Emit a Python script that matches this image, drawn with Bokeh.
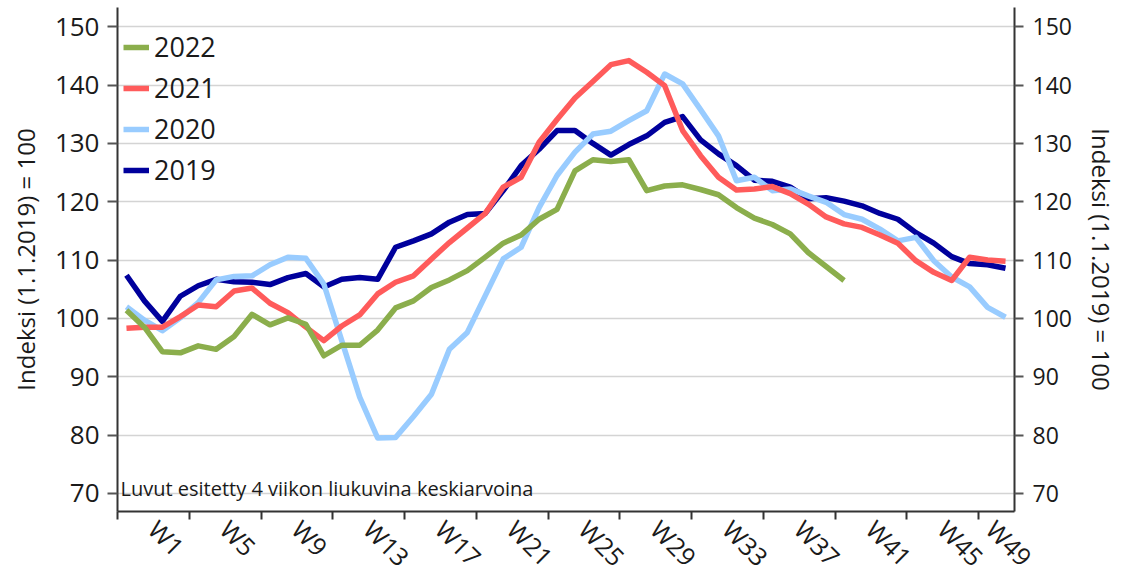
import math
from bokeh.plotting import figure
from bokeh.models import Range1d, LinearAxis, FixedTicker, Legend, LegendItem, Label
from bokeh.embed import file_html
from bokeh.resources import INLINE

# ---- data (4-week moving average index, 1.1.2019 = 100) ----
week_index = list(range(50))

s2019 = [107.4, 103.0, 99.5, 103.8, 105.6, 106.7, 106.3, 106.2, 105.8, 107.0,
         107.7, 105.4, 106.7, 107.0, 106.7, 112.2, 113.3, 114.5, 116.5, 117.8,
         118.0, 121.9, 126.2, 129.0, 132.2, 132.2, 130.0, 128.0, 129.8, 131.3,
         133.6, 134.6, 130.6, 128.2, 126.2, 123.7, 123.5, 122.5, 120.5, 120.7,
         120.1, 119.3, 118.0, 117.0, 114.7, 112.9, 110.6, 109.4, 109.2, 108.6]

s2020 = [102.0, 99.7, 97.9, 100.1, 102.7, 106.6, 107.2, 107.3, 109.2, 110.5,
         110.3, 105.9, 96.2, 86.5, 79.5, 79.6, 83.2, 87.0, 94.7, 97.6,
         103.9, 110.2, 112.2, 119.0, 124.5, 128.5, 131.6, 132.1, 133.9, 135.6,
         141.9, 140.2, 135.8, 131.3, 123.6, 124.2, 121.9, 122.2, 121.0, 119.9,
         117.8, 117.0, 115.3, 113.3, 113.9, 109.9, 107.1, 105.4, 101.9, 100.2]

s2021 = [98.3, 98.5, 98.5, 100.3, 102.3, 102.0, 104.7, 105.2, 102.6, 101.0,
         98.5, 96.2, 98.7, 100.6, 104.2, 106.2, 107.3, 110.2, 113.0, 115.5,
         118.0, 122.5, 124.2, 130.2, 134.1, 137.8, 140.6, 143.5, 144.2, 142.2,
         139.9, 132.2, 127.9, 124.2, 122.0, 122.2, 122.6, 121.4, 119.6, 117.4,
         116.2, 115.6, 114.3, 112.9, 109.9, 107.9, 106.5, 110.5, 110.0, 109.8]

s2022 = [101.4, 98.5, 94.3, 94.1, 95.3, 94.7, 96.9, 100.7, 98.9, 100.1,
         99.0, 93.6, 95.4, 95.4, 98.0, 101.8, 103.0, 105.3, 106.6, 108.2,
         110.5, 112.9, 114.3, 117.0, 118.7, 125.3, 127.2, 126.9, 127.2, 121.9,
         122.7, 122.9, 122.1, 121.2, 119.0, 117.2, 116.1, 114.5, 111.3, 108.9,
         106.5]

week_labels = ["W1", "W5", "W9", "W13", "W17", "W21", "W25", "W29", "W33",
               "W37", "W41", "W45", "W49"]
week_label_pos = [1.5, 5.5, 9.5, 13.5, 17.5, 21.5, 25.5, 29.5, 33.5,
                  37.5, 41.5, 45.5, 48.2]
week_tick_marks = [-0.5 + 4 * k for k in range(13)]
y_ticks = [70, 80, 90, 100, 110, 120, 130, 140, 150]

series_names = ["2022", "2021", "2020", "2019"]
series_colors = ["#8BAE4C", "#FF5B5B", "#99CCFF", "#00009C"]

FONT = "Open Sans"
TXT = "#1a1a1a"

p = figure(width=1136, height=588, output_backend="svg", toolbar_location=None,
           x_range=Range1d(-0.5, 49.5), y_range=Range1d(66.9, 153.3),
           min_border_left=117, min_border_right=122, min_border_top=7,
           min_border_bottom=77)
p.outline_line_color = None
p.background_fill_color = "white"
p.border_fill_color = "white"

# grid
p.xgrid.visible = False
p.ygrid.ticker = FixedTicker(ticks=y_ticks)
p.ygrid.grid_line_color = "#D4D4D4"
p.ygrid.grid_line_width = 1.5

# left axis
ya = p.yaxis[0]
ya.ticker = FixedTicker(ticks=y_ticks)
ya.axis_label = "Indeksi (1.1.2019) = 100"
ya.axis_label_text_font = FONT
ya.axis_label_text_font_size = "24px"
ya.axis_label_text_font_style = "normal"
ya.axis_label_text_color = TXT
ya.axis_label_standoff = 10
ya.major_label_text_font = FONT
ya.major_label_text_font_size = "26px"
ya.major_label_text_color = TXT
ya.major_label_standoff = 8
ya.major_tick_out = 10
ya.major_tick_in = 0
ya.minor_tick_out = 0
ya.minor_tick_in = 0
ya.axis_line_color = "#333333"
ya.axis_line_width = 2
ya.major_tick_line_color = "#555555"
ya.major_tick_line_width = 2

# right axis
ra = LinearAxis(ticker=FixedTicker(ticks=y_ticks))
ra.axis_label = "Indeksi (1.1.2019) = 100"
ra.axis_label_text_font = FONT
ra.axis_label_text_font_size = "24px"
ra.axis_label_text_font_style = "normal"
ra.axis_label_text_color = TXT
ra.axis_label_standoff = 10
ra.major_label_text_font = FONT
ra.major_label_text_font_size = "23px"
ra.major_label_text_color = TXT
ra.major_label_standoff = 9
ra.major_tick_out = 9
ra.major_tick_in = 0
ra.minor_tick_out = 0
ra.minor_tick_in = 0
ra.axis_line_color = "#333333"
ra.axis_line_width = 2
ra.major_tick_line_color = "#555555"
ra.major_tick_line_width = 2
p.add_layout(ra, "right")

# bottom axis: tick marks at 4-week boundaries (minor), week labels between them (major)
xa = p.xaxis[0]
xa.ticker = FixedTicker(ticks=week_label_pos, minor_ticks=week_tick_marks)
xa.major_label_overrides = {pos: lab for pos, lab in zip(week_label_pos, week_labels)}
xa.major_label_orientation = -math.pi / 4
xa.major_label_text_font = FONT
xa.major_label_text_font_size = "25px"
xa.major_label_text_color = TXT
xa.major_label_standoff = 5
xa.major_tick_out = 0
xa.major_tick_in = 0
xa.minor_tick_out = 8
xa.minor_tick_in = 0
xa.minor_tick_line_color = "#333333"
xa.minor_tick_line_width = 2
xa.axis_line_color = "#333333"
xa.axis_line_width = 2

# lines (draw 2019 first, 2022 on top)
data_map = {"2019": s2019, "2020": s2020, "2021": s2021, "2022": s2022}
renderers = {}
for name in ["2019", "2020", "2021", "2022"]:
    vals = data_map[name]
    col = series_colors[series_names.index(name)]
    renderers[name] = p.line(week_index[:len(vals)], vals, line_color=col,
                             line_width=5.5, line_join="round")

legend = Legend(items=[LegendItem(label=n, renderers=[renderers[n]]) for n in series_names],
                location=(0, 317))
legend.margin = 0
legend.padding = 6
legend.spacing = 4
legend.glyph_width = 26
legend.glyph_height = 36
legend.label_height = 36
legend.label_standoff = 5
legend.label_text_font = FONT
legend.label_text_font_size = "27px"
legend.label_text_color = TXT
legend.border_line_alpha = 0
legend.background_fill_alpha = 0
p.add_layout(legend)

note = Label(x=-0.5, y=70.8, x_offset=3, text="Luvut esitetty 4 viikon liukuvina keskiarvoina",
             text_font=FONT, text_font_size="20px", text_color=TXT,
             text_baseline="alphabetic", text_align="left")
p.add_layout(note)

open("out.html", "w").write(file_html(p, INLINE))
